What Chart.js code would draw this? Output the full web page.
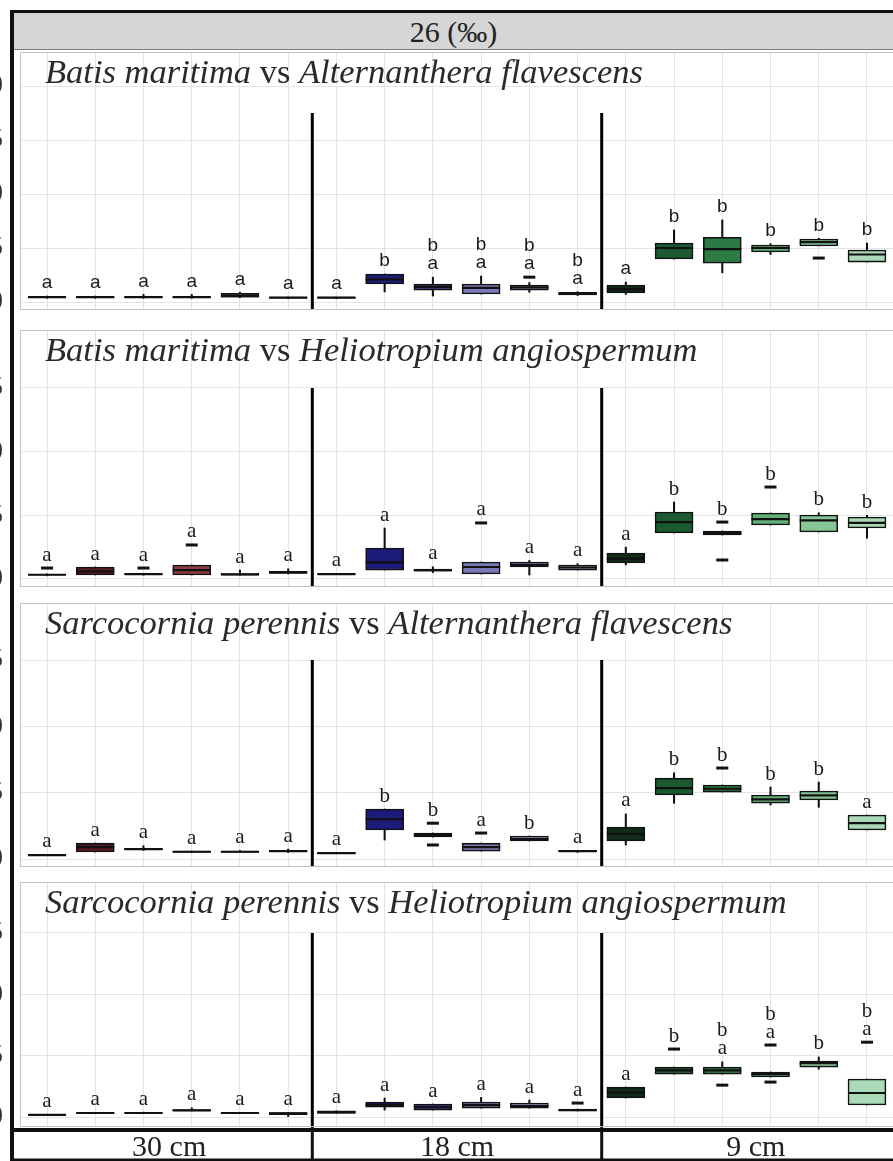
<!DOCTYPE html>
<html>
<head>
<meta charset="utf-8">
<script src="https://cdn.jsdelivr.net/npm/chart.js@4.4.1/dist/chart.umd.min.js"></script>
<style>
  html, body { margin: 0; padding: 0; background: #fff; width: 893px; height: 1161px; overflow: hidden; position: relative; }
  .frame-left { position: absolute; left: 10px; top: 10px; width: 4px; height: 1151px; background: #111; }
  .frame-top { position: absolute; left: 10px; top: 10px; width: 883px; height: 3px; background: #111; }
  .salinity { position: absolute; left: 14px; top: 13px; width: 879px; height: 36px; background: #d6d6d6;
              border-bottom: 1px solid #7a7a7a; font: 30px "Liberation Serif", serif; color: #222;
              text-align: center; line-height: 37px; }
  canvas { position: absolute; }
</style>
</head>
<body>
<div class="salinity" id="salinity"></div>
<div class="frame-left"></div>
<div class="frame-top"></div>
<canvas id="panel0"></canvas>
<canvas id="panel1"></canvas>
<canvas id="panel2"></canvas>
<canvas id="panel3"></canvas>
<script>
// ---- labels ----
const salinityLabel = '26 (\u2030)';
const depthLabels = ['30 cm', '18 cm', '9 cm'];
const panelTitles = [
  ['Batis maritima', 'Alternanthera flavescens'],
  ['Batis maritima', 'Heliotropium angiospermum'],
  ['Sarcocornia perennis', 'Alternanthera flavescens'],
  ['Sarcocornia perennis', 'Heliotropium angiospermum']
];
const yTickValues = [0, 5, 10, 15, 20];

// ---- box statistics per panel: [lower whisker, Q1, median, Q3, upper whisker] ----
// 18 boxes per panel: six per planting depth (30 cm, 18 cm, 9 cm)
const p1Stats = [
  [0.35, 0.40, 0.45, 0.50, 0.55], [0.35, 0.40, 0.45, 0.50, 0.55], [0.35, 0.40, 0.45, 0.50, 0.70],
  [0.35, 0.40, 0.45, 0.50, 0.70], [0.40, 0.45, 0.55, 0.80, 0.90], [0.30, 0.35, 0.40, 0.45, 0.45],
  [0.30, 0.35, 0.40, 0.45, 0.45], [0.93, 1.67, 2.10, 2.59, 2.59], [0.55, 1.10, 1.40, 1.67, 2.30],
  [0.74, 0.74, 1.30, 1.67, 2.40], [0.90, 1.10, 1.35, 1.57, 1.80], [0.60, 0.65, 0.75, 0.90, 0.95],
  [0.70, 0.85, 1.20, 1.57, 1.85], [3.98, 3.98, 5.00, 5.46, 6.67], [2.70, 3.60, 4.90, 6.00, 7.60],
  [4.40, 4.63, 5.00, 5.28, 5.40], [5.19, 5.19, 5.55, 5.83, 5.90], [3.70, 3.70, 4.40, 4.81, 5.46]
];
const p1Outliers = [[], [], [], [], [], [], [], [], [], [], [2.3], [], [], [], [], [], [4.07], []];
const p1Letters = ['a', 'a', 'a', 'a', 'a', 'a', 'a', 'b', 'ba', 'ba', 'ba', 'ba', 'a', 'b', 'b', 'b', 'b', 'b'];

const p2Stats = [
  [0.25, 0.30, 0.33, 0.36, 0.40], [0.31, 0.31, 0.60, 0.94, 0.94], [0.30, 0.35, 0.38, 0.42, 0.45],
  [0.31, 0.31, 0.70, 1.10, 1.10], [0.30, 0.30, 0.35, 0.45, 0.70], [0.40, 0.45, 0.50, 0.60, 0.80],
  [0.35, 0.35, 0.38, 0.42, 0.42], [0.70, 0.70, 1.30, 2.43, 4.00], [0.50, 0.62, 0.70, 0.78, 0.95],
  [0.39, 0.39, 0.94, 1.33, 1.33], [0.31, 0.94, 1.10, 1.33, 1.45], [0.70, 0.70, 0.90, 1.10, 1.20],
  [1.10, 1.26, 1.60, 2.04, 2.50], [3.61, 3.61, 4.47, 5.26, 6.04], [3.45, 3.45, 3.60, 3.77, 3.77],
  [4.24, 4.24, 4.70, 5.18, 5.18], [3.69, 3.69, 4.60, 5.02, 5.20], [3.20, 4.00, 4.40, 4.87, 5.00]
];
const p2Outliers = [[0.86], [], [0.86], [2.67], [], [], [], [], [], [4.4], [], [], [], [], [4.47, 1.49], [7.22], [], []];
const p2Letters = ['a', 'a', 'a', 'a', 'a', 'a', 'a', 'a', 'a', 'a', 'a', 'a', 'a', 'b', 'b', 'b', 'b', 'b'];

const p3Stats = [
  [0.25, 0.25, 0.30, 0.35, 0.35], [0.53, 0.53, 0.90, 1.20, 1.20], [0.65, 0.70, 0.75, 0.80, 1.00],
  [0.50, 0.50, 0.55, 0.60, 0.60], [0.50, 0.50, 0.55, 0.60, 0.65], [0.50, 0.55, 0.60, 0.65, 0.75],
  [0.40, 0.40, 0.45, 0.50, 0.50], [1.43, 2.19, 3.00, 3.77, 3.77], [1.66, 1.66, 1.80, 1.96, 1.96],
  [0.60, 0.60, 0.90, 1.20, 1.20], [1.36, 1.36, 1.50, 1.73, 1.73], [0.50, 0.55, 0.60, 0.65, 0.65],
  [1.06, 1.36, 1.90, 2.41, 3.40], [4.20, 4.83, 5.35, 6.10, 6.50], [5.05, 5.05, 5.30, 5.58, 5.58],
  [4.07, 4.22, 4.50, 4.83, 5.43], [3.90, 4.45, 4.80, 5.13, 5.80], [2.19, 2.19, 2.70, 3.32, 3.32]
];
const p3Outliers = [[], [], [], [], [], [], [], [], [2.7, 1.06], [1.96], [], [], [], [], [6.86], [], [], []];
const p3Letters = ['a', 'a', 'a', 'a', 'a', 'a', 'a', 'b', 'b', 'a', 'b', 'a', 'a', 'b', 'b', 'b', 'b', 'a'];

const p4Stats = [
  [0.15, 0.15, 0.17, 0.20, 0.20], [0.30, 0.30, 0.33, 0.36, 0.36], [0.30, 0.30, 0.33, 0.36, 0.40],
  [0.50, 0.50, 0.55, 0.60, 0.75], [0.30, 0.30, 0.33, 0.36, 0.36], [0.00, 0.20, 0.30, 0.36, 0.36],
  [0.30, 0.30, 0.40, 0.50, 0.50], [0.57, 0.81, 1.00, 1.22, 1.55], [0.57, 0.57, 0.80, 1.06, 1.06],
  [0.73, 0.73, 0.97, 1.22, 1.60], [0.73, 0.73, 0.90, 1.14, 1.39], [0.50, 0.50, 0.57, 0.65, 0.65],
  [1.55, 1.55, 2.00, 2.44, 2.44], [3.50, 3.50, 3.80, 4.07, 4.07], [3.50, 3.50, 3.80, 4.07, 4.50],
  [3.26, 3.26, 3.50, 3.67, 3.67], [3.90, 4.07, 4.40, 4.56, 4.90], [0.98, 0.98, 1.96, 3.10, 3.10]
];
const p4Outliers = [[], [], [], [], [], [], [], [], [], [], [], [1.14], [], [5.54], [2.6], [5.87, 2.85], [], [6.1]];
const p4Letters = ['a', 'a', 'a', 'a', 'a', 'a', 'a', 'a', 'a', 'a', 'a', 'a', 'a', 'b', 'ba', 'ba', 'b', 'ba'];

// top of the depth separators, in axis units
const separatorTop = [17.5, 15, 15, 15];

const panelStats = [p1Stats, p2Stats, p3Stats, p4Stats];
const panelOutliers = [p1Outliers, p2Outliers, p3Outliers, p4Outliers];
const panelLetters = [p1Letters, p2Letters, p3Letters, p4Letters];

// ---- layout & style ----
const panelTop = [52, 330, 603, 882];
const panelBottom = [310, 587, 867, 1127];
const axisMin = [-0.74, -0.63, -0.60, -0.81];
const axisMax = [23.15, 19.55, 19.30, 19.15];
const stripHeight = 34;
const canvasLeft = -30;
const yAxisWidth = 50;
const canvasWidth = 924;
const separatorsAt = [6.5, 12.5];
const titleFont = '34.5px "Liberation Serif", serif';
const boxFills = [
  '#2b0b0e', '#5b1a22', '#6f2329', '#8d3b42', '#a55b61', '#c28086',
  '#0c0c33', '#1b1b79', '#34347e', '#7a7ab9', '#9494c9', '#ababd8',
  '#0e2c18', '#1b5a30', '#2c7b45', '#63af78', '#85c596', '#aad9b7'
];
const ink = '#111';

document.getElementById('salinity').textContent = salinityLabel;

const panelDecor = {
  id: 'panelDecor',
  afterDatasetsDraw(chart, args, opts) {
    const { ctx, chartArea: ca, scales: { y } } = chart;
    const k = opts.panel;
    ctx.save();
    // significance letters above each box
    ctx.fillStyle = '#1a1a1a';
    ctx.textAlign = 'center';
    ctx.textBaseline = 'middle';
    ctx.font = k === 0 ? '19px "Liberation Sans", sans-serif' : '21px "Liberation Serif", serif';
    panelStats[k].forEach((s, i) => {
      const tops = [s[4], s[3], ...panelOutliers[k][i]];
      const topPx = Math.min(...tops.map(v => y.getPixelForValue(v)));
      const px = chart.scales.x.getPixelForValue(i + 1);
      const letters = panelLetters[k][i];
      let cy = topPx - 13;
      for (let j = letters.length - 1; j >= 0; j--) {
        ctx.fillText(letters[j], px, cy);
        cy -= 18;
      }
    });
    // panel title: species in italics
    const [a, b] = panelTitles[k];
    let tx = ca.left + 25;
    const ty = ca.top + 31;
    ctx.textAlign = 'left';
    ctx.textBaseline = 'alphabetic';
    ctx.fillStyle = '#2a2a2a';
    ctx.font = 'italic ' + titleFont;
    ctx.fillText(a, tx, ty); tx += ctx.measureText(a).width;
    ctx.font = titleFont;
    ctx.fillText(' vs ', tx, ty); tx += ctx.measureText(' vs ').width;
    ctx.font = 'italic ' + titleFont;
    ctx.fillText(b, tx, ty);
    // panel border
    ctx.strokeStyle = '#c2c2c2';
    ctx.lineWidth = 1;
    ctx.strokeRect(ca.left + 0.5, ca.top + 0.5, ca.right - ca.left - 1, ca.bottom - ca.top - 1);
    ctx.restore();
  },
  afterDraw(chart, args, opts) {
    if (!opts.depthStrip) return;
    const { ctx, chartArea: ca, scales: { x } } = chart;
    ctx.save();
    ctx.fillStyle = ink;
    const left = 40;
    ctx.fillRect(left, ca.bottom + 1, chart.width - left, 4);
    ctx.fillRect(left, chart.height - 2.5, chart.width - left, 2.5);
    const cuts = separatorsAt.map(v => x.getPixelForValue(v));
    cuts.forEach(px => ctx.fillRect(px - 1.5, ca.bottom, 3, chart.height - ca.bottom));
    const edges = [44, ...cuts, chart.width + 16];
    ctx.font = '30px "Liberation Serif", serif';
    ctx.fillStyle = '#222';
    ctx.textAlign = 'center';
    ctx.textBaseline = 'alphabetic';
    depthLabels.forEach((lab, i) => {
      ctx.fillText(lab, (edges[i] + edges[i + 1]) / 2 + (i === 0 ? 6 : 0), chart.height - 5);
    });
    ctx.restore();
  }
};

function buildPanel(k) {
  const canvas = document.getElementById('panel' + k);
  const last = k === 3;
  const h = panelBottom[k] - panelTop[k] + (last ? stripHeight : 0);
  canvas.width = canvasWidth;
  canvas.height = h;
  canvas.style.left = canvasLeft + 'px';
  canvas.style.top = panelTop[k] + 'px';

  const stats = panelStats[k];
  const datasets = [
    {
      type: 'bar', label: 'whiskers',
      data: stats.map((s, i) => ({ x: i + 1, y: [s[0], s[4]] })),
      backgroundColor: ink, barThickness: 1.4, grouped: false, order: 3
    },
    {
      type: 'bar', label: 'boxes',
      data: stats.map((s, i) => ({ x: i + 1, y: [s[1], s[3]] })),
      backgroundColor: boxFills, borderColor: ink, borderWidth: 1.6, borderSkipped: false,
      barThickness: 38, grouped: false, order: 2
    },
    {
      type: 'scatter', label: 'medians',
      data: stats.map((s, i) => ({ x: i + 1, y: s[2] })),
      pointStyle: 'line', pointRadius: 19, pointBorderWidth: 2.2, pointBorderColor: ink,
      borderColor: ink, order: 1
    },
    {
      type: 'scatter', label: 'outliers',
      data: panelOutliers[k].flatMap((list, i) => list.map(v => ({ x: i + 1, y: v }))),
      pointStyle: 'line', pointRadius: 6, pointBorderWidth: 3, pointBorderColor: ink,
      borderColor: ink, order: 1
    }
  ];
  separatorsAt.forEach(sx => datasets.push({
    type: 'line', label: 'depth separator',
    data: [{ x: sx, y: separatorTop[k] }, { x: sx, y: axisMin[k] }],
    borderColor: '#000', borderWidth: 3, pointRadius: 0, order: 0
  }));

  new Chart(canvas, {
    type: 'bar',
    data: { datasets },
    options: {
      responsive: false,
      animation: false,
      events: [],
      layout: { autoPadding: false, padding: { left: 0, right: 0, top: 0, bottom: last ? stripHeight : 0 } },
      plugins: {
        legend: { display: false },
        tooltip: { enabled: false },
        panelDecor: { panel: k, depthStrip: last }
      },
      scales: {
        x: {
          type: 'linear', min: 0.44, max: 18.56, offset: false,
          grid: { offset: false, color: '#e4e4e4', lineWidth: 1, drawTicks: false },
          border: { display: false },
          ticks: { display: false, stepSize: 1, includeBounds: false },
          afterFit(s) { s.height = 0; s.paddingLeft = 0; s.paddingRight = 0; }
        },
        y: {
          type: 'linear', min: axisMin[k], max: axisMax[k], beginAtZero: false,
          grid: { color: '#e4e4e4', lineWidth: 1, drawTicks: false },
          border: { display: false },
          afterBuildTicks(s) { s.ticks = yTickValues.filter(v => v <= s.max).map(v => ({ value: v })); },
          ticks: { padding: 17, color: '#333', font: { family: '"Liberation Serif", serif', size: 28 } },
          afterFit(s) { s.width = yAxisWidth; s.paddingTop = 0; s.paddingBottom = 0; }
        }
      }
    },
    plugins: [panelDecor]
  });
}

[0, 1, 2, 3].forEach(buildPanel);
</script>
</body>
</html>
